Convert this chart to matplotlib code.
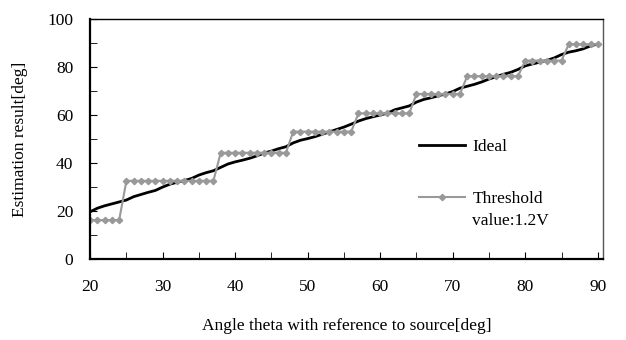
import matplotlib
matplotlib.use('Agg')
import matplotlib.pyplot as plt
from matplotlib.ticker import MultipleLocator

# Angle steps (deg)
angles = list(range(20, 91))

# Ideal estimation result (deg)
ideal = [19.7, 21.2, 22.2, 23.0, 23.8, 24.6, 26.0, 26.9, 27.8, 28.6,
         30.0, 31.2, 32.0, 32.7, 33.6, 35.0, 36.0, 36.8, 38.2, 39.6,
         40.5, 41.2, 42.0, 43.0, 44.2, 45.0, 46.0, 46.8, 48.4, 49.5,
         50.2, 51.0, 52.0, 53.0, 54.0, 55.0, 56.2, 57.5, 58.5, 59.3,
         60.0, 60.8, 62.2, 63.0, 63.8, 65.4, 66.5, 67.2, 68.0, 68.8,
         69.8, 71.2, 72.0, 72.8, 73.8, 75.0, 76.0, 77.0, 77.8, 79.0,
         80.5, 81.3, 82.0, 82.8, 83.8, 85.2, 86.2, 86.8, 87.6, 88.8,
         89.6]

# Threshold 1.2V: quantised levels and how many angle steps each covers
levels = [16.2, 32.6, 44.3, 53.1, 60.7, 68.8, 76.2, 82.7, 89.5]
counts = [5, 13, 10, 9, 8, 7, 8, 6, 5]
threshold = []
for lv, n in zip(levels, counts):
    threshold += [lv] * n

plt.rcParams['font.family'] = ['Liberation Serif', 'DejaVu Serif']
fs = 12.5

fig = plt.figure(figsize=(6.26, 3.4), dpi=100)
ax = fig.add_axes([0.144, 0.238, 0.819, 0.706])

ax.plot(angles, ideal, color='black', lw=2.0, label='Ideal')
ax.plot(angles, threshold, color='#999999', lw=1.5, marker='D', markersize=3.2,
        label='Threshold')

ax.set_xlim(20, 90.7)
ax.set_ylim(0, 100)
ax.xaxis.set_major_locator(MultipleLocator(10))
ax.xaxis.set_minor_locator(MultipleLocator(5))
ax.yaxis.set_major_locator(MultipleLocator(20))
ax.yaxis.set_minor_locator(MultipleLocator(10))
ax.tick_params(which='both', direction='in', labelsize=fs, color='black')
ax.tick_params(axis='x', which='both', length=5, pad=14)
ax.tick_params(axis='y', which='both', length=5, pad=12)

for side in ['left', 'bottom']:
    ax.spines[side].set_linewidth(1.6)
for side in ['top', 'right']:
    ax.spines[side].set_linewidth(1.0)
ax.spines['right'].set_color('#555555')

ax.set_xlabel('Angle theta with reference to source[deg]', fontsize=fs, labelpad=17)
ax.set_ylabel('Estimation result[deg]', fontsize=fs, labelpad=14)

leg = ax.legend(loc='upper left', bbox_to_anchor=(0.61, 0.567), frameon=False,
                fontsize=fs, handlelength=2.65, labelspacing=2.08, handletextpad=0.45)
# second line of the threshold label sits just under the first one
# (zorder above the legend so it is placed after the legend is laid out)
ax.annotate('value:1.2V', xy=(0, 0), xycoords=leg.get_texts()[1],
            xytext=(0, -6), textcoords='offset pixels', va='top', ha='left',
            fontsize=fs, zorder=6)

fig.savefig('out.png', dpi=100)
